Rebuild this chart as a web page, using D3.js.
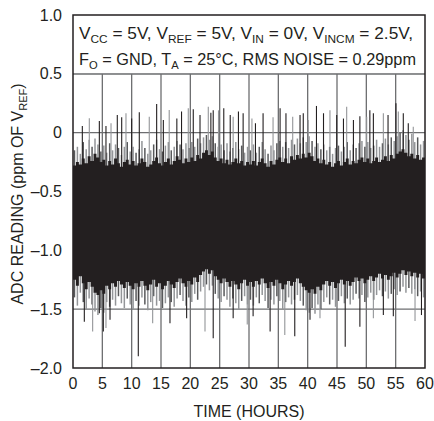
<!DOCTYPE html>
<html>
<head>
<meta charset="utf-8">
<script src="https://cdn.jsdelivr.net/npm/d3@7"></script>
<style>
  body { margin: 0; background: #fff; }
  svg { display: block; }
  text { font-family: "Liberation Sans", Arial, sans-serif; fill: #231f20; }
</style>
</head>
<body>
<div id="chart"></div>
<script>
// axis ticks
const xTicks = [0, 5, 10, 15, 20, 25, 30, 35, 40, 45, 50, 55, 60];
const yTicks = [1.0, 0.5, 0, -0.5, -1.0, -1.5, -2.0];
const yTickLabels = ["1.0", "0.5", "0", "–0.5", "–1.0", "–1.5", "–2.0"];
const gridY = [0.5, 0, -0.5, -1.0, -1.5];

// noise band, one value per half hour (0 .. 60 h)
const binStep = 0.5;
const upperDense = [
  -0.28,-0.25,-0.27,-0.22,-0.26,-0.20,-0.24,-0.18,-0.21,-0.25,-0.23,-0.28,-0.24,-0.27,-0.22,-0.26,-0.29,-0.25,-0.23,-0.27,
  -0.24,-0.28,-0.26,-0.22,-0.25,-0.29,-0.27,-0.24,-0.21,-0.26,-0.28,-0.25,-0.22,-0.27,-0.24,-0.20,-0.23,-0.26,-0.22,-0.25,
  -0.21,-0.24,-0.19,-0.22,-0.17,-0.15,-0.19,-0.16,-0.21,-0.24,-0.22,-0.26,-0.23,-0.27,-0.25,-0.22,-0.26,-0.24,-0.28,-0.25,
  -0.27,-0.24,-0.28,-0.25,-0.22,-0.26,-0.29,-0.24,-0.27,-0.23,-0.21,-0.25,-0.22,-0.26,-0.20,-0.23,-0.19,-0.22,-0.18,-0.21,
  -0.17,-0.20,-0.24,-0.22,-0.26,-0.23,-0.27,-0.25,-0.29,-0.26,-0.24,-0.28,-0.25,-0.22,-0.27,-0.24,-0.26,-0.23,-0.21,-0.25,
  -0.22,-0.26,-0.24,-0.21,-0.25,-0.23,-0.20,-0.24,-0.19,-0.22,-0.18,-0.16,-0.14,-0.17,-0.20,-0.18,-0.22,-0.19,-0.23,-0.21
];
const upperSparse = [
  -0.15,-0.12,-0.18,-0.08,-0.14,-0.06,-0.12,-0.05,-0.10,-0.16,-0.11,-0.17,-0.09,-0.15,-0.10,-0.13,-0.19,-0.12,-0.08,-0.16,
  -0.12,-0.17,-0.14,-0.07,-0.13,-0.18,-0.15,-0.10,-0.06,-0.14,-0.16,-0.11,-0.08,-0.15,-0.12,-0.07,-0.10,-0.14,-0.09,-0.13,
  -0.08,-0.12,-0.05,-0.09,-0.04,-0.02,-0.06,-0.03,-0.09,-0.12,-0.10,-0.15,-0.09,-0.16,-0.13,-0.08,-0.14,-0.11,-0.17,-0.12,
  -0.15,-0.10,-0.17,-0.12,-0.08,-0.14,-0.18,-0.11,-0.15,-0.09,-0.07,-0.12,-0.08,-0.13,-0.06,-0.10,-0.05,-0.09,-0.04,-0.08,
  -0.03,-0.07,-0.12,-0.09,-0.14,-0.10,-0.15,-0.12,-0.18,-0.13,-0.11,-0.16,-0.12,-0.08,-0.15,-0.10,-0.13,-0.09,-0.07,-0.12,
  -0.08,-0.13,-0.11,-0.06,-0.12,-0.09,-0.05,-0.10,-0.04,-0.07,-0.03,0.00,0.02,-0.02,-0.06,-0.01,-0.08,-0.04,-0.10,-0.07
];
const lowerDense = [
  -1.25,-1.30,-1.22,-1.28,-1.33,-1.27,-1.31,-1.36,-1.38,-1.34,-1.37,-1.30,-1.33,-1.28,-1.31,-1.26,-1.29,-1.32,-1.27,-1.30,
  -1.33,-1.28,-1.31,-1.26,-1.30,-1.34,-1.29,-1.25,-1.31,-1.28,-1.33,-1.30,-1.26,-1.29,-1.32,-1.27,-1.24,-1.28,-1.31,-1.26,
  -1.29,-1.23,-1.27,-1.21,-1.18,-1.16,-1.20,-1.17,-1.22,-1.25,-1.28,-1.24,-1.27,-1.31,-1.26,-1.29,-1.33,-1.28,-1.25,-1.30,
  -1.27,-1.31,-1.26,-1.29,-1.24,-1.28,-1.32,-1.27,-1.30,-1.25,-1.28,-1.33,-1.29,-1.26,-1.30,-1.27,-1.24,-1.28,-1.31,-1.34,
  -1.36,-1.33,-1.37,-1.31,-1.34,-1.29,-1.26,-1.30,-1.27,-1.32,-1.28,-1.25,-1.29,-1.26,-1.30,-1.27,-1.23,-1.26,-1.24,-1.28,
  -1.25,-1.22,-1.26,-1.23,-1.20,-1.24,-1.21,-1.25,-1.22,-1.19,-1.23,-1.20,-1.17,-1.21,-1.18,-1.22,-1.19,-1.23,-1.20,-1.24
];
const lowerSparse = [
  -1.40,-1.47,-1.36,-1.44,-1.50,-1.41,-1.46,-1.52,-1.55,-1.49,-1.53,-1.44,-1.48,-1.42,-1.47,-1.39,-1.45,-1.49,-1.41,-1.46,
  -1.50,-1.43,-1.47,-1.40,-1.46,-1.51,-1.44,-1.39,-1.47,-1.43,-1.49,-1.45,-1.40,-1.44,-1.48,-1.41,-1.38,-1.43,-1.47,-1.40,
  -1.44,-1.37,-1.42,-1.35,-1.31,-1.29,-1.34,-1.30,-1.37,-1.41,-1.44,-1.39,-1.42,-1.48,-1.41,-1.45,-1.50,-1.43,-1.39,-1.46,
  -1.42,-1.47,-1.40,-1.45,-1.38,-1.43,-1.49,-1.42,-1.46,-1.39,-1.43,-1.50,-1.44,-1.40,-1.46,-1.42,-1.38,-1.43,-1.47,-1.51,
  -1.53,-1.49,-1.54,-1.46,-1.50,-1.44,-1.40,-1.46,-1.42,-1.48,-1.43,-1.39,-1.45,-1.41,-1.46,-1.42,-1.37,-1.41,-1.38,-1.44,
  -1.40,-1.36,-1.42,-1.38,-1.34,-1.39,-1.35,-1.41,-1.37,-1.33,-1.38,-1.35,-1.31,-1.36,-1.32,-1.37,-1.33,-1.39,-1.35,-1.40
];

// isolated spikes (hour, peak ppm)
const topSpikeHours = [1.59,2.78,4.49,5.62,6.48,7.55,8.3,9.03,10.0,11.3,13.0,14.26,15.4,16.4,17.7,18.5,19.65,20.5,21.65,23.06,
  23.5,23.9,24.8,25.7,26.8,27.3,28.2,29.0,30.5,31.1,32.4,34.1,35.3,36.3,37.45,38.7,39.25,40.1,41.5,42.7,
  43.8,44.95,46.1,46.65,47.8,48.9,50.06,50.6,51.2,52.9,53.7,55.05,55.45,56.3,57.15,58.0];
const topSpikeVals = [0.057,0.122,0.10,0.057,0.08,0.15,0.13,0.165,0.12,0.173,0.136,0.244,0.108,0.193,0.12,0.18,0.207,0.20,0.15,0.22,
  0.17,0.19,0.19,0.207,0.15,0.136,0.18,0.165,0.12,0.08,0.165,0.13,0.207,0.165,0.136,0.15,0.165,0.108,0.227,0.165,
  0.19,0.15,0.12,0.22,0.108,0.14,0.136,0.19,0.165,0.165,0.15,0.25,0.18,0.165,0.08,0.05];
const bottomSpikeHours = [1.93,3.35,4.49,5.17,5.62,6.31,11.13,13.58,16.53,19.37,22.5,23.9,27.3,29.7,30.7,33.6,36.1,37.8,40.4,42.1,
  46.4,48.9,51.2,52.9,54.6,58.3,59.4];
const bottomSpikeVals = [-1.606,-1.69,-1.535,-1.69,-1.66,-1.59,-1.90,-1.62,-1.62,-1.577,-1.69,-1.747,-1.577,-1.63,-1.56,-1.69,-1.72,-1.73,-1.59,-1.577,
  -1.82,-1.65,-1.577,-1.55,-1.56,-1.60,-1.55];

const w = 434, h = 421;
const plotL = 73, plotR = 425, plotT = 15, plotB = 368;

const svg = d3.select("#chart").append("svg")
  .attr("width", w)
  .attr("height", h);

const xScale = d3.scaleLinear().domain([0, 60]).range([plotL, plotR]);
const yScale = d3.scaleLinear().domain([-2, 1]).range([plotB, plotT]);

// grid
svg.append("g").selectAll("line")
  .data(xTicks.slice(1, -1))
  .enter().append("line")
  .attr("x1", d => xScale(d)).attr("x2", d => xScale(d))
  .attr("y1", plotT).attr("y2", plotB)
  .attr("stroke", "#6d6e70").attr("stroke-width", 1.3);

svg.append("g").selectAll("line")
  .data(gridY)
  .enter().append("line")
  .attr("x1", plotL).attr("x2", plotR)
  .attr("y1", d => yScale(d)).attr("y2", d => yScale(d))
  .attr("stroke", "#6d6e70").attr("stroke-width", 1.3);

// data
const plot = svg.append("g");
const bw = xScale(binStep) - xScale(0);

plot.selectAll("line.sparse")
  .data(upperSparse)
  .enter().append("line")
  .attr("class", "sparse")
  .attr("x1", (d, i) => xScale(i * binStep) + bw * 0.5)
  .attr("x2", (d, i) => xScale(i * binStep) + bw * 0.5)
  .attr("y1", d => yScale(d))
  .attr("y2", (d, i) => yScale(lowerSparse[i]))
  .attr("stroke", (d, i) => i % 3 === 0 ? "#58595b" : "#939598")
  .attr("stroke-width", 1.5);

plot.selectAll("line.top")
  .data(topSpikeVals)
  .enter().append("line")
  .attr("class", "top")
  .attr("x1", (d, i) => xScale(topSpikeHours[i]))
  .attr("x2", (d, i) => xScale(topSpikeHours[i]))
  .attr("y1", d => yScale(d))
  .attr("y2", yScale(-0.6))
  .attr("stroke", (d, i) => i % 3 === 1 ? "#939598" : "#231f20")
  .attr("stroke-width", 1.1);

plot.selectAll("line.bot")
  .data(bottomSpikeVals)
  .enter().append("line")
  .attr("class", "bot")
  .attr("x1", (d, i) => xScale(bottomSpikeHours[i]))
  .attr("x2", (d, i) => xScale(bottomSpikeHours[i]))
  .attr("y1", d => yScale(d))
  .attr("y2", yScale(-1.0))
  .attr("stroke", (d, i) => i % 3 === 1 ? "#939598" : "#231f20")
  .attr("stroke-width", 1.1);

// dense band as one stepped area (last bin repeated so the step reaches 60 h)
const band = upperDense.map((d, i) => ({ t: i * binStep, hi: d, lo: lowerDense[i] }));
band.push({ t: 60, hi: upperDense[upperDense.length - 1], lo: lowerDense[lowerDense.length - 1] });
plot.append("path")
  .datum(band)
  .attr("fill", "#231f20")
  .attr("d", d3.area()
    .curve(d3.curveStepAfter)
    .x(d => xScale(d.t))
    .y0(d => yScale(d.lo))
    .y1(d => yScale(d.hi)));

// white panel for the note
svg.append("rect")
  .attr("x", plotL).attr("y", plotT)
  .attr("width", plotR - plotL).attr("height", yScale(0.5) - plotT)
  .attr("fill", "#fff");
svg.append("line")
  .attr("x1", plotL).attr("x2", plotR)
  .attr("y1", yScale(0.5)).attr("y2", yScale(0.5))
  .attr("stroke", "#6d6e70").attr("stroke-width", 1.3);

// frame
svg.append("rect")
  .attr("x", plotL).attr("y", plotT)
  .attr("width", plotR - plotL).attr("height", plotB - plotT)
  .attr("fill", "none")
  .attr("stroke", "#231f20")
  .attr("stroke-width", 1.5);

// tick labels
svg.append("g").selectAll("text")
  .data(yTicks)
  .enter().append("text")
  .attr("x", 62)
  .attr("y", d => yScale(d) + 5.5)
  .attr("text-anchor", "end")
  .attr("font-size", 16)
  .text((d, i) => yTickLabels[i]);

svg.append("g").selectAll("text")
  .data(xTicks)
  .enter().append("text")
  .attr("x", d => xScale(d))
  .attr("y", 389)
  .attr("text-anchor", "middle")
  .attr("font-size", 16)
  .text(d => d);

svg.append("text")
  .attr("x", (plotL + plotR) / 2)
  .attr("y", 417)
  .attr("text-anchor", "middle")
  .attr("font-size", 16)
  .text("TIME (HOURS)");

const yTitle = svg.append("text")
  .attr("transform", "translate(23,194) rotate(-90)")
  .attr("text-anchor", "middle")
  .attr("font-size", 16);
yTitle.append("tspan").text("ADC READING (ppm OF V");
yTitle.append("tspan").attr("font-size", 11).attr("dy", 4).text("REF");
yTitle.append("tspan").attr("dy", -4).text(")");

// note text with subscripts
function note(y, parts, len) {
  const t = svg.append("text")
    .attr("x", 79).attr("y", y)
    .attr("font-size", 16)
    .attr("textLength", len)
    .attr("lengthAdjust", "spacingAndGlyphs");
  let down = false;
  parts.forEach((p, i) => {
    const sub = i % 2 === 1;
    const s = t.append("tspan").text(p);
    if (sub) { s.attr("font-size", 11).attr("dy", 4); down = true; }
    else if (down) { s.attr("dy", -4); down = false; }
  });
}
note(38.5, ["V", "CC", " = 5V, V", "REF", " = 5V, V", "IN", " = 0V, V", "INCM", " = 2.5V,"], 334);
note(64.5, ["F", "O", " = GND, T", "A", " = 25°C, RMS NOISE = 0.29ppm"], 337);
</script>
</body>
</html>
